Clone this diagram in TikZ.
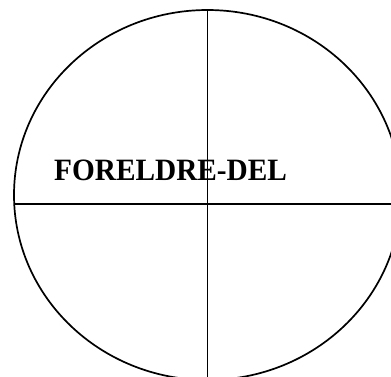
\documentclass[tikz,border=0pt]{standalone}
\usepackage{fontspec}
\setmainfont{Liberation Serif}
\begin{document}
\begin{tikzpicture}[x=1pt,y=-1pt,
  frame/.style={line width=1.7pt,black},
  label/.style={font=\fontsize{29.3}{32}\selectfont\bfseries,inner sep=0pt,anchor=base west,yscale=1.06}]
\useasboundingbox (0,0) rectangle (391,376);
\clip (0,0) rectangle (391,376);
\draw[frame] (207.5,195) ellipse [x radius=193.5, y radius=185];
\coordinate (top) at (207.5,10);
\coordinate (bottom) at (207.5,380);
\coordinate (left) at (14.2,204);
\coordinate (right) at (400,204);
\draw[frame] (top) -- (bottom);
\draw[frame] (left) -- (right);
\node[label] (title) at (54,180) {FORELDRE-DEL};
\end{tikzpicture}
\end{document}
